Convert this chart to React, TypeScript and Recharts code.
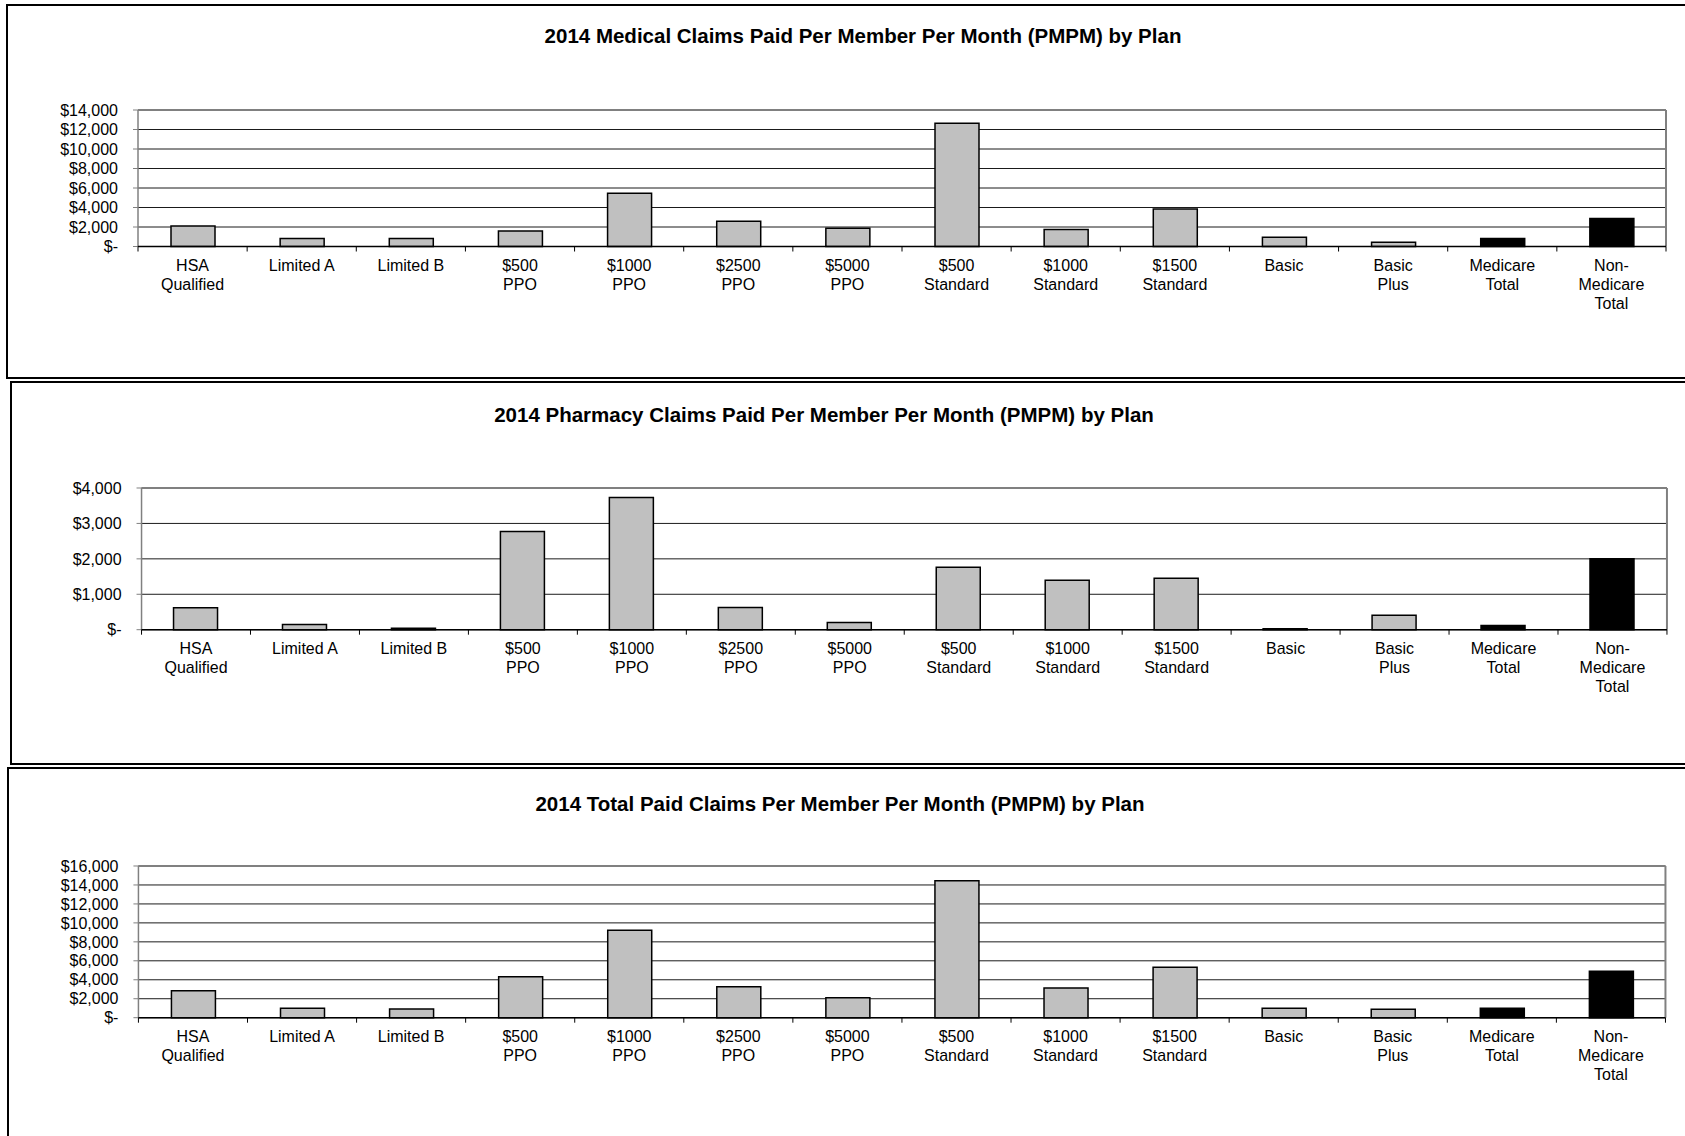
import { BarChart, Bar, XAxis, YAxis, CartesianGrid, Cell } from 'recharts';

// plan categories, in axis order; '\n' marks where the label wraps
const plans = [
  'HSA\nQualified',
  'Limited A',
  'Limited B',
  '$500\nPPO',
  '$1000\nPPO',
  '$2500\nPPO',
  '$5000\nPPO',
  '$500\nStandard',
  '$1000\nStandard',
  '$1500\nStandard',
  'Basic',
  'Basic\nPlus',
  'Medicare\nTotal',
  'Non-\nMedicare\nTotal',
];

// roll-up rows get the solid black bar
const totalRows = ['Medicare\nTotal', 'Non-\nMedicare\nTotal'];

const medicalPmpm = [2100, 820, 820, 1580, 5450, 2600, 1880, 12640, 1750, 3840, 960, 445, 820, 2880];
const pharmacyPmpm = [620, 150, 40, 2775, 3735, 630, 205, 1760, 1395, 1450, 30, 405, 120, 2005];
const totalPmpm = [2850, 985, 915, 4325, 9210, 3270, 2110, 14450, 3130, 5310, 985, 880, 985, 4890];

const medicalTicks = [0, 2000, 4000, 6000, 8000, 10000, 12000, 14000];
const pharmacyTicks = [0, 1000, 2000, 3000, 4000];
const totalTicks = [0, 2000, 4000, 6000, 8000, 10000, 12000, 14000, 16000];

const PAGE_W = 1685;
const PAGE_H = 1136;

const money = (v: number) => (v === 0 ? '$-' : '$' + v.toLocaleString('en-US'));

// category label plus the small tick marks that sit on the band boundaries
function makePlanTick(band: number, last: number) {
  return (props: any) => {
    const { x, y, payload, index } = props;
    const lines = String(payload.value).split('\n');
    return (
      <g>
        <line x1={x - band / 2} x2={x - band / 2} y1={y} y2={y + 5} stroke="#000" />
        {index === last && (
          <line x1={x + band / 2} x2={x + band / 2} y1={y} y2={y + 5} stroke="#000" />
        )}
        <text x={x} y={y + 24.5} textAnchor="middle" fontSize={16} fill="#000">
          {lines.map((l, i) => (
            <tspan key={i} x={x} dy={i === 0 ? 0 : 18.8}>
              {l}
            </tspan>
          ))}
        </text>
      </g>
    );
  };
}

interface Box {
  left: number;
  top: number;
  width: number;
  height: number;
}

interface PlotRect {
  left: number;
  right: number;
  top: number;
  bottom: number;
}

interface PanelProps {
  title: string;
  values: number[];
  ticks: number[];
  frame: Box;
  plot: PlotRect;
  titleAt: { x: number; y: number };
}

function PlanPanel({ title, values, ticks, frame, plot, titleAt }: PanelProps) {
  const data = plans.map((plan, i) => ({ plan, value: values[i] }));
  const marginTop = 10;
  const height = marginTop + (plot.bottom - plot.top) + 80;
  const band = (plot.right - plot.left) / plans.length;

  return (
    <>
      <div
        style={{
          position: 'absolute',
          left: frame.left,
          top: frame.top,
          width: frame.width,
          height: frame.height,
          border: '2px solid #000',
          boxSizing: 'border-box',
        }}
      />
      <div
        style={{
          position: 'absolute',
          left: titleAt.x - 500,
          top: titleAt.y - 12,
          width: 1000,
          textAlign: 'center',
          fontWeight: 'bold',
          fontSize: 20.5,
          lineHeight: '24px',
        }}
      >
        {title}
      </div>
      <div style={{ position: 'absolute', left: 0, top: plot.top - marginTop }}>
        <BarChart
          width={PAGE_W}
          height={height}
          data={data}
          margin={{ top: marginTop, right: PAGE_W - plot.right, bottom: 0, left: 0 }}
          barSize={44}
        >
          <CartesianGrid vertical={false} stroke="#1a1a1a" />
          {/* grey plot-area frame on top and right */}
          <CartesianGrid
            horizontalPoints={[marginTop]}
            verticalPoints={[plot.right]}
            stroke="#808080"
            strokeWidth={2}
          />
          <YAxis
            width={plot.left}
            domain={[0, ticks[ticks.length - 1]]}
            ticks={ticks}
            interval={0}
            tickFormatter={money}
            tick={{ fill: '#000', fontSize: 16 }}
            tickSize={5}
            tickMargin={15}
            axisLine={{ stroke: '#808080', strokeWidth: 1.5 }}
            tickLine={{ stroke: '#808080' }}
          />
          <XAxis
            dataKey="plan"
            height={80}
            interval={0}
            tickLine={false}
            tickSize={0}
            tickMargin={0}
            axisLine={{ stroke: '#000', strokeWidth: 1.5 }}
            tick={makePlanTick(band, plans.length - 1)}
          />
          <Bar dataKey="value" fill="#C0C0C0" stroke="#000" strokeWidth={1.5} isAnimationActive={false}>
            {data.map((d) => (
              <Cell key={d.plan} fill={totalRows.includes(d.plan) ? '#000' : '#C0C0C0'} />
            ))}
          </Bar>
        </BarChart>
      </div>
    </>
  );
}

export default function App() {
  return (
    <div
      style={{
        position: 'absolute',
        left: 0,
        top: 0,
        width: PAGE_W,
        height: PAGE_H,
        overflow: 'hidden',
        background: '#fff',
        fontFamily: '"Liberation Sans", Arial, sans-serif',
        color: '#000',
      }}
    >
      <PlanPanel
        title="2014 Medical Claims Paid Per Member Per Month (PMPM) by Plan"
        values={medicalPmpm}
        ticks={medicalTicks}
        frame={{ left: 6, top: 4, width: 1800, height: 375 }}
        plot={{ left: 138, right: 1666, top: 109.5, bottom: 246 }}
        titleAt={{ x: 863, y: 36 }}
      />
      <PlanPanel
        title="2014 Pharmacy Claims Paid Per Member Per Month (PMPM) by Plan"
        values={pharmacyPmpm}
        ticks={pharmacyTicks}
        frame={{ left: 10, top: 381, width: 1800, height: 384 }}
        plot={{ left: 141.5, right: 1667, top: 488.3, bottom: 630 }}
        titleAt={{ x: 824, y: 415 }}
      />
      <PlanPanel
        title="2014 Total Paid Claims Per Member Per Month (PMPM) by Plan"
        values={totalPmpm}
        ticks={totalTicks}
        frame={{ left: 7, top: 767, width: 1800, height: 500 }}
        plot={{ left: 138.4, right: 1665.5, top: 866, bottom: 1017.7 }}
        titleAt={{ x: 840, y: 804 }}
      />
    </div>
  );
}
